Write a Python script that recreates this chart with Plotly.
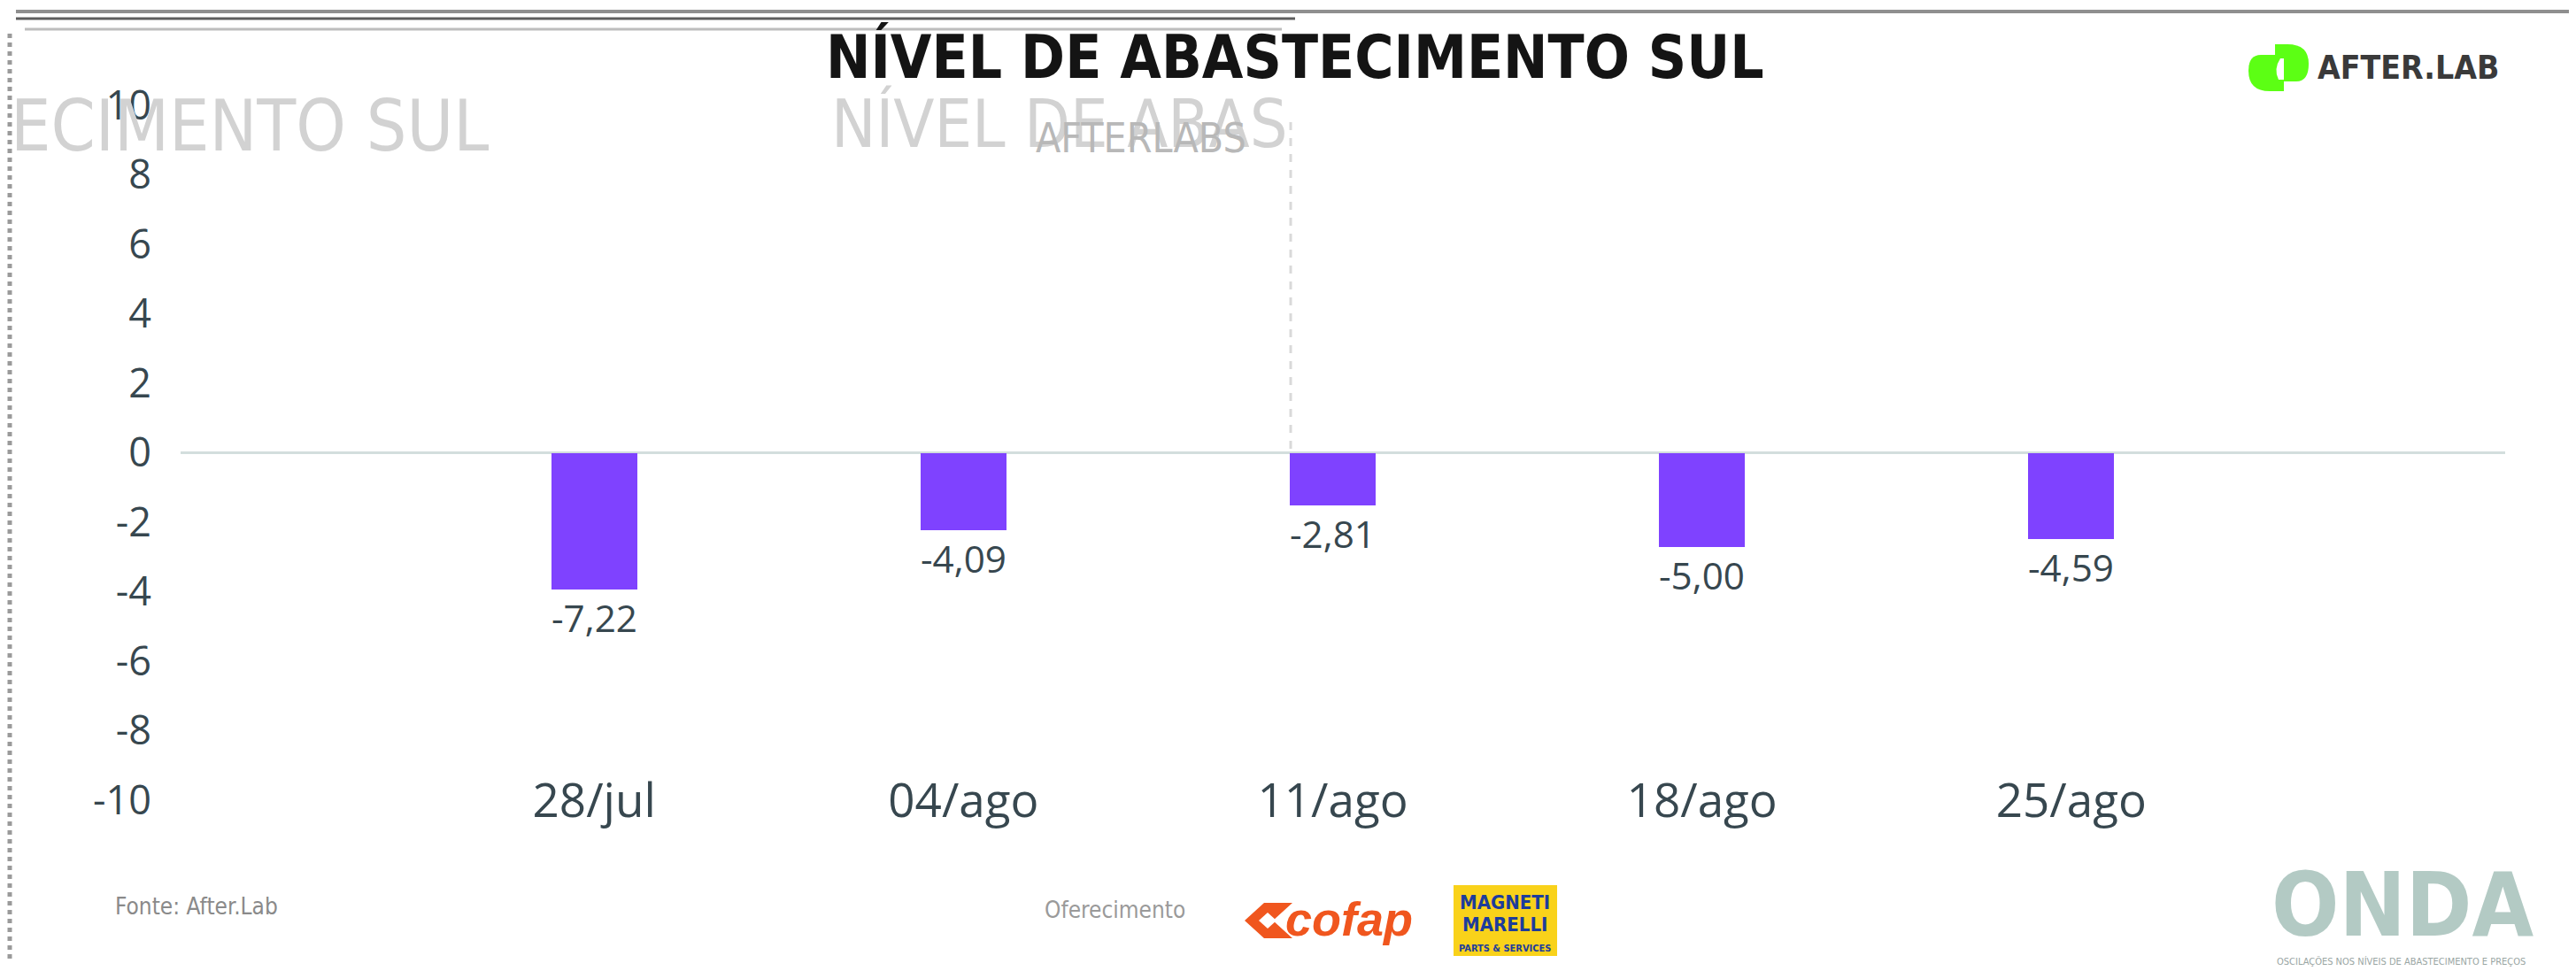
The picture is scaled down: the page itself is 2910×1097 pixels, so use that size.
import plotly.graph_objects as go

# ---------------- data ----------------
categories = ["28/jul", "04/ago", "11/ago", "18/ago", "25/ago"]
values = [-7.22, -4.09, -2.81, -5.00, -4.59]
y_tickvals = [-10, -8, -6, -4, -2, 0, 2, 4, 6, 8, 10]
y_ticktext = ["-10", "-8", "-6", "-4", "-2", "0", "2", "4", "6", "8", "10"]
title_text = "NÍVEL DE ABASTECIMENTO SUL"

W, H = 2910, 1097


def xp(px):
    return px / W


def yp(py):
    return 1 - py / H


labels = [f"{v:.2f}".replace(".", ",") for v in values]
TXT = "#37474f"
NARROW = "DejaVu Sans Condensed, Roboto, sans-serif"

fig = go.Figure()
# invisible anchor trace so the visible y axis (ticks + zero line) is drawn
fig.add_trace(go.Scatter(x=categories, y=[0] * len(categories), mode="markers",
                         marker=dict(opacity=0, size=1), showlegend=False, hoverinfo="skip"))
fig.add_trace(go.Bar(
    x=categories, y=values, yaxis="y2",
    width=0.233,
    marker=dict(color="#7f42ff", line=dict(width=0)),
    text=labels, textposition="outside",
    textfont=dict(family="Open Sans", size=50, color=TXT),
    cliponaxis=False, showlegend=False, hoverinfo="skip",
))

shapes = []
# frame artefacts
shapes.append(dict(type="line", xref="paper", yref="paper", x0=xp(10), x1=xp(2895), y0=yp(5), y1=yp(5),
                   line=dict(color="#8f8f8f", width=4)))
shapes.append(dict(type="line", xref="paper", yref="paper", x0=xp(10), x1=xp(1455), y0=yp(13), y1=yp(13),
                   line=dict(color="#5e5e5e", width=3)))
shapes.append(dict(type="line", xref="paper", yref="paper", x0=xp(20), x1=xp(1440), y0=yp(25), y1=yp(25),
                   line=dict(color="#bdbdbd", width=3)))
shapes.append(dict(type="line", xref="paper", yref="paper", x0=xp(2905), x1=xp(2905), y0=yp(25), y1=yp(1080),
                   line=dict(color="#8a8a8a", width=4)))
shapes.append(dict(type="line", xref="paper", yref="paper", x0=xp(3), x1=xp(3), y0=yp(30), y1=yp(1080),
                   line=dict(color="#9a9a9a", width=5, dash="dot")))
# vertical dashed artefact line
shapes.append(dict(type="line", xref="paper", yref="paper", x0=xp(1450), x1=xp(1450), y0=yp(130), y1=yp(505),
                   line=dict(color="#d9d9d9", width=3, dash="dash")))
# AfterLab logo (green, two rounded halves)
shapes.append(dict(type="path", xref="paper", yref="paper",
                   path=f"M {xp(2546)},{yp(54)} L {xp(2572)},{yp(54)} L {xp(2572)},{yp(95)} L {xp(2556)},{yp(95)} "
                        f"Q {xp(2532)},{yp(95)} {xp(2532)},{yp(72)} Q {xp(2532)},{yp(54)} {xp(2546)},{yp(54)} Z",
                   fillcolor="#5cff14", line=dict(width=0)))
shapes.append(dict(type="path", xref="paper", yref="paper",
                   path=f"M {xp(2576)},{yp(42)} Q {xp(2600)},{yp(42)} {xp(2600)},{yp(64)} "
                        f"Q {xp(2600)},{yp(84)} {xp(2586)},{yp(84)} L {xp(2562)},{yp(84)} L {xp(2562)},{yp(42)} Z",
                   fillcolor="#5cff14", line=dict(width=0)))
shapes.append(dict(type="path", xref="paper", yref="paper",
                   path=f"M {xp(2568)},{yp(58)} Q {xp(2560)},{yp(70)} {xp(2566)},{yp(82)} L {xp(2572)},{yp(82)} "
                        f"L {xp(2572)},{yp(58)} Z",
                   fillcolor="white", line=dict(width=0)))
# cofap icon
shapes.append(dict(type="path", xref="paper", yref="paper",
                   path=f"M {xp(1398)},{yp(1032)} L {xp(1420)},{yp(1012)} L {xp(1452)},{yp(1012)} "
                        f"L {xp(1430)},{yp(1032)} L {xp(1452)},{yp(1052)} L {xp(1420)},{yp(1052)} Z",
                   fillcolor="#f0561e", line=dict(width=0)))
shapes.append(dict(type="path", xref="paper", yref="paper",
                   path=f"M {xp(1414)},{yp(1032)} L {xp(1424)},{yp(1023)} L {xp(1434)},{yp(1032)} "
                        f"L {xp(1424)},{yp(1041)} Z",
                   fillcolor="white", line=dict(width=0)))
# Magneti Marelli box
shapes.append(dict(type="rect", xref="paper", yref="paper", x0=xp(1634), x1=xp(1751), y0=yp(1072), y1=yp(992),
                   fillcolor="#f9d21a", line=dict(width=0)))

annotations = []


def ann(text, x, y, size, color, family=NARROW, xanchor="left", weight="normal", style="normal"):
    annotations.append(dict(text=text, x=xp(x), y=yp(y), xref="paper", yref="paper",
                            xanchor=xanchor, yanchor="middle", showarrow=False,
                            font=dict(family=family, size=size, color=color, weight=weight, style=style)))


# ghost artefacts of the title
ann("ECIMENTO SUL", 2, 134, 80, "#d2d2d2")
ann("NÍVEL DE ABAS", 929, 132, 75, "#d2d2d2")
ann("AFTERLABS", 1160, 148, 46, "#b8b8b8")
# title
ann(title_text, 1455, 57, 67, "#141414", xanchor="center", weight="bold")
# AfterLab text
ann("AFTER.LAB", 2608, 68, 37, "#3a3a3a", weight="bold")
# footer
ann("Fonte: After.Lab", 120, 1016, 26, "#8a8a8a")
ann("Oferecimento", 1170, 1020, 26, "#9a9a9a")
ann("cofap", 1442, 1030, 54, "#f0561e", family="Liberation Sans, Arial, sans-serif", weight="bold", style="italic")
ann("MAGNETI", 1692, 1011, 22, "#1d3c9c", xanchor="center", weight="bold")
ann("MARELLI", 1692, 1036, 22, "#1d3c9c", xanchor="center", weight="bold")
ann("PARTS &amp; SERVICES", 1692, 1063, 11, "#1d3c9c", xanchor="center", weight="bold")
ann("ONDA", 2556, 1014, 100, "#b3cac4", weight="bold")
ann("OSCILAÇÕES NOS NÍVEIS DE ABASTECIMENTO E PREÇOS", 2562, 1078, 11, "#9aa6a3")

fig.update_layout(
    width=W, height=H, autosize=False,
    margin=dict(l=0, r=0, t=0, b=0, pad=0),
    paper_bgcolor="white", plot_bgcolor="white",
    separators=",.",
    bargap=0,
    xaxis=dict(type="category", categoryorder="array", categoryarray=categories,
               range=[-1.12, 5.175], domain=[xp(196), xp(2822)],
               anchor="free", position=yp(861), automargin=False,
               showgrid=False, zeroline=False, showline=False, ticks="",
               tickfont=dict(family="Open Sans", size=53, color=TXT)),
    yaxis=dict(domain=[yp(896), yp(111)], range=[-10, 10], automargin=False,
               tickmode="array", tickvals=y_tickvals, ticktext=y_ticktext,
               showgrid=False, zeroline=True, zerolinecolor="#d3dedd", zerolinewidth=3,
               showline=False, ticks="", ticklabelstandoff=32,
               tickfont=dict(family="Open Sans", size=45, color=TXT)),
    yaxis2=dict(overlaying="y", range=[-18.4, 18.4], visible=False, automargin=False,
                showgrid=False, zeroline=False),
    shapes=shapes,
    annotations=annotations,
)

fig.write_html("out.html")
